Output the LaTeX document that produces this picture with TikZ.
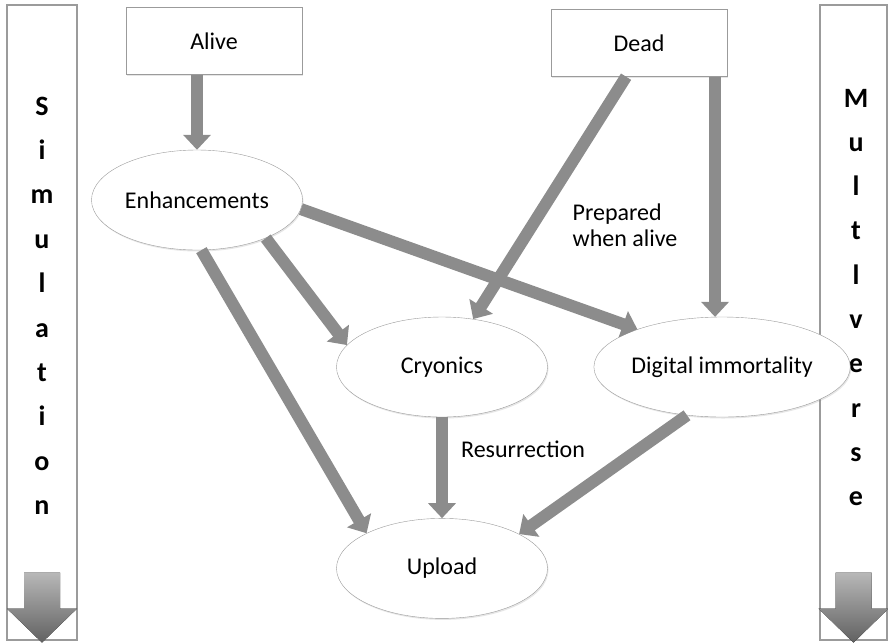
\documentclass[tikz,border=0pt]{standalone}
\usepackage{fontspec}
\setmainfont{Carlito}
\usetikzlibrary{arrows.meta,positioning,shapes.geometric,shadows}
\definecolor{edgegray}{RGB}{155,155,155}
\definecolor{flowgray}{RGB}{140,140,140}
\tikzstyle{condition}=[
	rectangle,
	draw=edgegray,
	fill=white,
	minimum width=176pt,
	minimum height=67pt,
	inner sep=0pt,
	font=\fontsize{24}{28}\selectfont,
	drop shadow={opacity=0.2,shadow xshift=1pt,shadow yshift=-1.5pt}
]
\tikzstyle{method}=[
	ellipse,
	draw=edgegray,
	fill=white,
	minimum width=211pt,
	minimum height=100pt,
	inner sep=0pt,
	font=\fontsize{24}{28}\selectfont,
	drop shadow={opacity=0.2,shadow xshift=1pt,shadow yshift=-1.5pt}
]
\tikzstyle{flow}=[
	-{Triangle[width=27pt,length=15pt]},
	draw=flowgray,
	line width=12pt
]
\tikzstyle{sidebar}=[
	rectangle,
	draw=edgegray,
	line width=1.2pt,
	minimum height=635pt,
	inner sep=0pt
]
\tikzstyle{barletter}=[
	font=\fontsize{28}{32}\selectfont\bfseries,
	inner sep=0pt,
	anchor=base
]
\tikzstyle{barhead}=[top color=black!28, bottom color=black!62]
\tikzstyle{note}=[font=\fontsize{24}{26}\selectfont, align=left, inner sep=0pt]

\begin{document}
\begin{tikzpicture}[x=1pt,y=-1pt]
\useasboundingbox (0,0) rectangle (888,643);

% side bars
\node [sidebar, minimum width=70pt] (SimBar) at (42,322.5) {};
\node [sidebar, minimum width=67pt] (MultBar) at (853.5,322.5) {};
\foreach \bar in {SimBar,MultBar}
	\fill [barhead, shift={(\bar.south)}] (-18,-68) -- (18,-68) -- (18,-32) -- (35,-32)
		-- (0,2) -- (-35,-32) -- (-18,-32) -- cycle;
\foreach \ch [count=\i] in {S,i,m,u,l,a,t,i,o,n}
	\node [barletter] (Sim\i) at (42,{115+44.4*(\i-1)}) {\ch};
\foreach \ch [count=\i] in {M,u,l,t,l,v,e,r,s,e}
	\node [barletter] (Mult\i) at (856,{107+44.3*(\i-1)}) {\ch};

% states
\node [condition] (Alive) at (214,41) {Alive};
\node [condition] (Dead) at (639,43) {Dead};
\node [method] (Enhancements) at (197,200) {Enhancements};
\node [method] (Cryonics) at (442,367) {Cryonics};
\node [method] (DigitalImmortality) [right=46pt of Cryonics] {Digital immortality};
\node [method] (Upload) [below=101pt of Cryonics] {Upload};

% transitions
\draw [flow] (Alive.south -| Enhancements.north) -- (Enhancements.north);
\draw [flow] (Enhancements.-85) -- (Upload.155);
\draw [flow] (Enhancements.-29) -- (Cryonics.167);
\draw [flow] (Dead.-111) -- (Cryonics.57);
\draw [flow] (Enhancements.-5) -- (DigitalImmortality.156);
\draw [flow] (Dead.south -| DigitalImmortality.98) -- (DigitalImmortality.98);
\draw [flow] (Cryonics.south) -- (Upload.north);
\draw [flow] (DigitalImmortality.-126) -- (Upload.24);

\node [note] (PreparedNote) at (625,225) {Prepared\\when alive};
\node [note] (ResurrectionNote) at (523,449) {Resurrection};
\end{tikzpicture}
\end{document}
